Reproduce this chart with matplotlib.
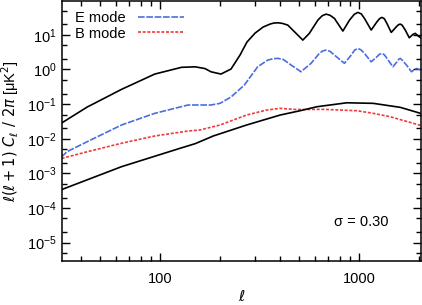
import matplotlib
matplotlib.use("Agg")
import matplotlib.pyplot as plt
from matplotlib.ticker import LogLocator, NullFormatter, FixedLocator, FixedFormatter

plt.rcParams['font.family'] = ['Liberation Sans', 'DejaVu Sans']
plt.rcParams['mathtext.fontset'] = 'dejavusans'

# ---- DATA ----
# upper black curve
ell_T = [32, 43, 64, 94, 128, 150, 168, 180, 202, 227, 252, 273, 300, 329, 357,
         372, 391, 412, 438, 482, 521, 562, 620, 652, 682, 714, 751, 828, 894,
         945, 985, 1025, 1063, 1149, 1228, 1268, 1301, 1338, 1378, 1449, 1536,
         1575, 1608, 1645, 1704, 1785, 1864, 1914, 1981, 2048]
cl_T = [0.0284, 0.082, 0.266, 0.735, 1.15, 1.19, 1.06, 0.857, 0.735, 1.025, 2.6,
        6.16, 11.2, 16.7, 20.4, 21.8, 22.2, 21.3, 19.0, 11.0, 7.03, 11.0, 26.5,
        35.5, 39.5, 36.5, 29.7, 12.8, 26.5, 39.0, 44.3, 40.0, 29.7, 13.7, 23.7,
        29.5, 31.8, 29.0, 21.3, 11.7, 17.0, 19.5, 20.4, 18.8, 13.7, 8.2, 10.3,
        11.0, 9.17, 8.03]

# E mode
ell_E = [32, 34, 43, 64, 94, 138, 158, 180, 200, 227, 265, 309, 347, 368, 390,
         415, 455, 510, 573, 631, 655, 682, 712, 751, 843, 912, 948, 985, 1022,
         1063, 1149, 1228, 1265, 1301, 1338, 1378, 1477, 1548, 1578, 1608, 1645,
         1728, 1831, 1940, 2048]
cl_E = [0.0030, 0.0042, 0.0082, 0.0249, 0.054, 0.094, 0.094, 0.094, 0.105, 0.16,
        0.354, 1.19, 1.86, 2.02, 2.09, 1.95, 1.34, 0.857, 1.50, 2.91, 3.40, 3.62,
        3.35, 2.60, 1.50, 2.60, 3.60, 4.05, 3.65, 2.91, 1.66, 2.32, 2.75, 2.91,
        2.65, 2.09, 1.19, 1.66, 1.95, 2.09, 1.85, 1.34, 0.857, 1.07, 0.959]

# B mode
ell_B = [32, 43, 64, 94, 138, 158, 200, 272, 343, 400, 486, 659, 974, 1176, 1432, 2048]
cl_B = [0.0027, 0.0042, 0.0074, 0.012, 0.0167, 0.0178, 0.0249, 0.0483, 0.0673,
        0.0753, 0.0696, 0.0705, 0.0643, 0.0541, 0.0431, 0.024]

# lower black curve
ell_L = [32, 64, 126, 150, 185, 272, 401, 505, 613, 867, 1176, 1608, 2048]
cl_L = [3.4e-4, 1.56e-3, 5.3e-3, 7.2e-3, 0.012, 0.0249, 0.0483, 0.0643, 0.0838,
        0.109, 0.105, 0.0805, 0.0534]

x_ticks = [100, 1000]
x_ticklabels = ["100", "1000"]
y_ticks = [1e-5, 1e-4, 1e-3, 1e-2, 1e-1, 1e0, 1e1]
y_ticklabels = [r"$\mathdefault{10^{%d}}$" % p for p in (-5, -4, -3, -2, -1, 0, 1)]
sigma_label = "σ = 0.30"

# ---- PLOT ----
fig = plt.figure(figsize=(4.22, 3.05), dpi=100)
ax = fig.add_axes([0.146, 0.145, 0.852, 0.852])

ax.plot(ell_E, cl_E, color="#4a6ee0", lw=1.2, dashes=(4, 1.0), label="E mode")
ax.plot(ell_B, cl_B, color="#f03a3a", lw=1.2, dashes=(1.8, 1.0), label="B mode")
ax.plot(ell_T, cl_T, color="black", lw=1.2)
ax.plot(ell_L, cl_L, color="black", lw=1.2)

ax.set_xscale("log")
ax.set_yscale("log")
ax.set_xlim(32, 2048)
ax.set_ylim(3e-6, 95)

ax.yaxis.set_major_locator(FixedLocator(y_ticks))
ax.yaxis.set_major_formatter(FixedFormatter(y_ticklabels))
ax.yaxis.set_minor_locator(LogLocator(base=10, subs=[2, 5], numticks=20))
ax.yaxis.set_minor_formatter(NullFormatter())
ax.xaxis.set_major_locator(FixedLocator(x_ticks))
ax.xaxis.set_major_formatter(FixedFormatter(x_ticklabels))
ax.xaxis.set_minor_locator(LogLocator(base=10, subs=range(2, 10), numticks=20))
ax.xaxis.set_minor_formatter(NullFormatter())

ax.tick_params(which="both", direction="in", top=True, right=True, labelsize=10.5)
ax.tick_params(which="major", length=6, width=1)
ax.tick_params(which="minor", length=3.5, width=1)
ax.tick_params(axis="x", which="major", pad=8)
for s in ax.spines.values():
    s.set_linewidth(1.1)

ax.set_xlabel(r"$\ell$", fontsize=11, labelpad=2)
ax.set_ylabel(r"$\ell(\ell+1)\ C_\ell\ /\ 2\pi$ [μK$^2$]", fontsize=10.5, labelpad=4)

ax.text(0.758, 0.149, sigma_label, transform=ax.transAxes, ha="left", va="center",
        fontsize=10.5)

ax.legend(loc="upper left", frameon=False, markerfirst=False, handlelength=3.2,
          fontsize=10.5, borderaxespad=0.3, labelspacing=0.1,
          bbox_to_anchor=(0.01, 1.0))

fig.savefig("out.png", dpi=100)
